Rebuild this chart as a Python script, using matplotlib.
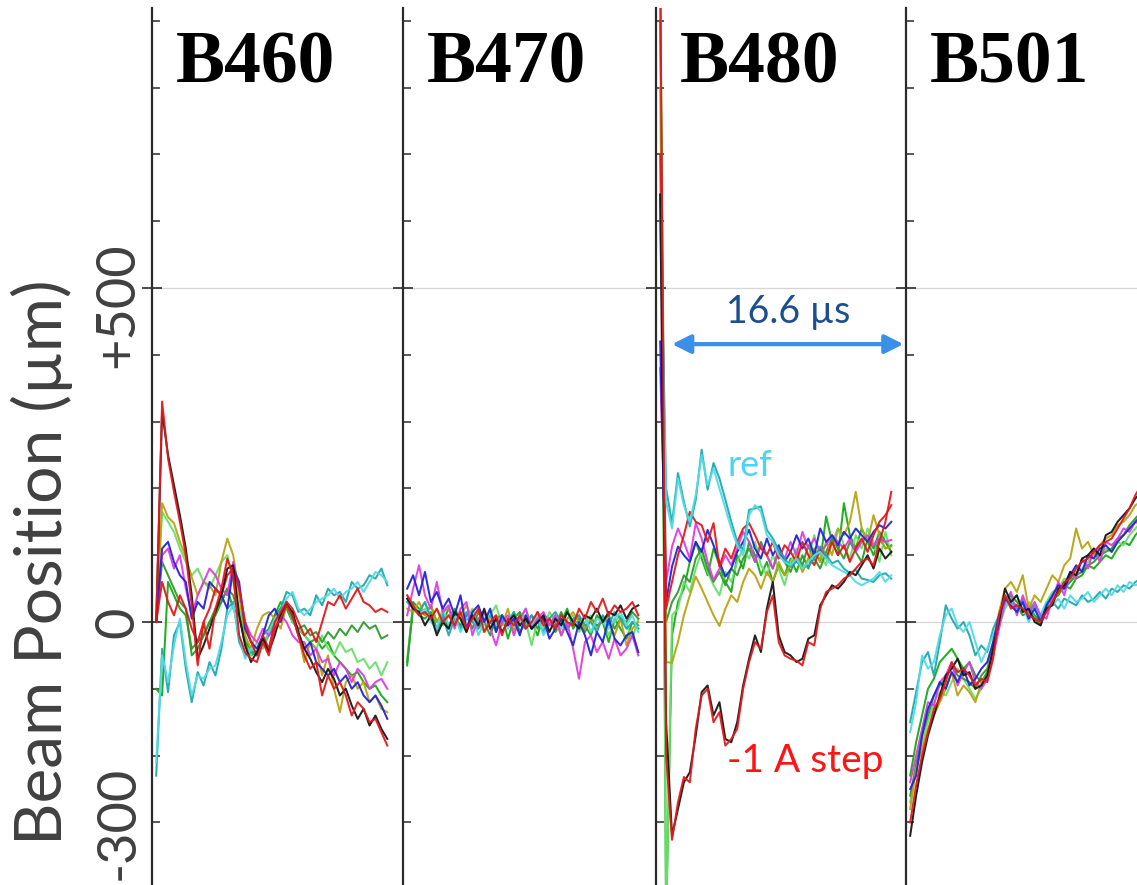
import matplotlib

matplotlib.use("Agg")
import matplotlib.pyplot as plt
import matplotlib.transforms as mtransforms
from matplotlib.ticker import FixedLocator, MultipleLocator
import numpy as np

# sampling of every BPM trace (µs from the start of each bunch window)
T0, DT = 0.3, 0.425

PANELS = ["B460", "B470", "B480", "B501"]
TICK_VALUES = [500, 0, -300]
TICK_LABELS = ["+500", "0", "-300"]

RED = "#e3191c"
BLACK = "#161616"
BLUE = "#2424d8"
MAGENTA = "#e03ce0"
TEAL = "#1ea8b0"
CYAN = "#52dbe4"
GREEN = "#16aa16"
LIME = "#68e068"
OLIVE = "#b8a412"
DKGREEN = "#2f9a2f"

# ---- B460 (µm) ----
B460_RED = [0, 330, 245, 195, 150, 100, 25, -65, 0, -40, 20, 50, 95, 70, -20, -45, -55, -60, -30, -50,
            -10, 5, 25, 10, -20, -50, -70, -60, -110, -80, -100, -90, -110, -140, -120, -130, -150, -145, -165, -185]
B460_BLACK = [0, 315, 250, 205, 160, 110, 40, -55, -35, -10, 15, 40, 80, 85, 10, -35, -60, -45, -25, -45,
              -20, 10, 25, 15, -15, -40, -55, -75, -90, -70, -85, -110, -100, -125, -145, -130, -155, -140, -160, -175]
B460_RED2 = [0, 60, 30, 10, 40, 20, -10, -30, 0, 20, 50, 40, 70, 80, 50, 0, -30, -50, -20, -40,
             0, 15, 30, 20, 0, -20, -10, -30, 0, 30, 25, 40, 20, 35, 50, 30, 25, 15, 20, 15]
B460_TEAL = [-230, -40, -105, -20, 0, -70, -120, -75, -95, -60, -80, -40, 20, 30, -30, -50, -45, -50, -30, -20,
             0, 20, 45, 40, 15, 20, 10, 40, 25, 50, 40, 45, 30, 60, 50, 55, 70, 65, 80, 55]
B460_CYAN = [-210, -50, -90, -35, 5, -60, -110, -80, -85, -70, -65, -30, 10, 25, -20, -55, -40, -45, -35, -15,
             5, 15, 35, 45, 20, 10, 20, 30, 35, 40, 50, 35, 45, 50, 60, 45, 60, 75, 70, 60]
B460_OLIVE = [0, 178, 157, 148, 120, 97, 67, 40, 60, 55, 40, 90, 125, 100, 40, -20, -40, -10, 10, 15,
              5, -10, 25, 10, -20, -60, -30, -40, -80, -50, -100, -135, -90, -80, -100, -90, -120, -110, -130, -135]
B460_LIME = [0, 165, 150, 135, 110, 90, 70, 80, 60, 50, 70, 90, 100, 60, 20, -20, -50, -30, -40, -20,
             -10, 20, 30, 0, -10, -20, -30, -40, -20, -40, -50, -30, -45, -40, -60, -55, -70, -60, -80, -60]
B460_BLUE = [0, 110, 120, 90, 70, 60, 5, 30, 20, 60, 50, 40, 20, 80, 60, -10, -30, -40, -20, 10,
             20, 0, 30, 10, -20, -40, -30, -60, -70, -80, -70, -90, -80, -100, -90, -110, -120, -110, -125, -145]
B460_MAGENTA = [0, 100, 110, 80, 100, 50, 10, 40, 60, 80, 70, 50, 40, 90, 50, 0, -20, -30, -10, -20,
                -10, 10, 0, -20, -30, -30, -50, -40, -60, -55, -80, -60, -70, -90, -70, -80, -100, -90, -85, -100]
B460_GREEN = [-100, -110, 60, 40, 20, 10, -40, -30, -20, 0, 10, 30, 50, 20, 10, -30, -50, -45, -30, -20,
              10, 30, 20, 0, -10, -20, -30, -25, -40, -30, -50, -60, -70, -80, -75, -90, -100, -95, -110, -120]
B460_DKGREEN = [0, 90, 70, 50, 30, 20, -50, -40, -20, 0, 20, 30, 50, 40, 10, -30, -40, -50, -20, -10,
                10, 20, 25, 5, -10, -5, -20, -15, -30, -15, -25, -10, -20, -5, -15, 0, -10, -5, -25, -20]

# ---- B470 (µm) ----
B470_RED = [40, 25, 10, 15, 5, 20, 0, 10, -5, 15, -10, 5, 20, -15, 0, 10, -20, 5, -5, 10,
            -10, 0, 15, -5, 5, -10, 10, 0, -5, 20, 5, 30, 15, 35, 10, 25, 15, 20, 30, 10]
B470_BLACK = [35, 20, 15, -5, 10, -20, 0, -10, 15, 5, -15, 10, -5, 20, -10, 5, -15, 0, 10, -5,
              5, -10, 0, 10, -15, 5, -5, 15, 0, -10, 10, 5, 20, 0, 15, 10, 25, 5, 20, 25]
B470_BLUE = [50, 70, 40, 75, 30, 45, 20, 35, 10, 40, -10, 15, 25, 0, 20, -15, 10, -5, 5, -20,
             10, -10, 0, 5, -25, -10, 5, -15, -35, 0, -20, -50, -15, -30, 5, -25, -35, -20, -15, -45]
B470_MAGENTA = [10, 50, 85, 40, 20, 60, 15, 25, -10, 20, 30, -20, 5, 15, -10, -35, 0, 10, -20, 5,
                20, -10, 5, 15, -5, 10, -20, 0, -40, -85, -30, -20, -45, -30, -55, -25, -50, -40, -20, -50]
B470_TEAL = [30, 20, 15, 30, 5, -15, 10, -20, 5, -10, 15, 0, -10, 5, 10, -15, 5, 0, 15, -5,
             -10, 10, 0, -15, 5, 15, 0, -10, 5, 10, -5, 0, -15, 10, -5, 15, 5, -10, 0, -5]
B470_CYAN = [35, 25, 10, 20, 0, -10, 20, -5, 10, -15, 5, 15, -20, 0, 15, -5, 10, -10, 5, 0,
             20, -5, 10, -20, 0, 5, -10, 15, 0, -5, 10, -15, 5, 0, -10, 5, 15, -5, 10, -15]
B470_GREEN = [-65, 30, 20, 10, 25, 0, 15, -10, 20, 5, -15, 10, -5, 15, 0, -10, 10, -25, 5, 15,
              -5, 0, -20, 10, 5, -15, 0, 20, -10, 5, -5, -20, 10, 0, -30, 5, -10, -25, 0, -10]
B470_LIME = [-55, 25, 15, 30, 5, 20, -5, 10, 15, -10, 5, 20, 0, -15, 10, 25, -5, 5, -10, 10,
             0, -35, 5, -10, 15, 0, -20, 5, 10, -15, 0, 10, -10, 5, -20, 0, 10, -5, -25, 5]
B470_OLIVE = [20, 15, 30, 10, 25, 0, 15, 20, -5, 10, 25, 5, -10, 15, 0, 10, -5, 20, -15, 5,
              10, -10, 15, 0, -5, 10, -20, 5, 15, 0, -10, 5, -15, 10, 0, -20, 5, -35, -10, 0]
B470_DKGREEN = [-60, 20, 10, 5, 15, -10, 0, 20, 5, -5, 10, -10, 15, 0, -20, 5, 10, -5, 15, -15,
                0, 10, -10, 5, 0, -5, 15, -10, 0, 10, -15, 5, -5, 0, 10, -10, 5, 0, 15, 5]

# ---- B480 (µm), first sample carries the kicker transient ----
B480_RED = [1000, -200, -326, -270, -232, -240, -160, -110, -100, -150, -135, -185, -175, -160, -100, -60, -30, -40, 15, 40,
            -30, -50, -55, -58, -65, -30, -35, 20, 45, 50, 55, 65, 70, 80, 90, 95, 85, 120, 150, 195]
B480_BLACK = [640, -150, -320, -280, -240, -225, -170, -105, -95, -140, -120, -175, -180, -150, -95, -55, -20, -45, 20, 60,
              -20, -45, -50, -60, -55, -25, -20, 25, 40, 55, 50, 60, 75, 70, 85, 100, 80, 110, 95, 105]
B480_TEAL = [640, 200, 148, 223, 180, 143, 183, 258, 198, 238, 215, 183, 150, 120, 108, 168, 170, 173, 138, 125,
             108, 95, 83, 90, 83, 83, 95, 113, 100, 88, 92, 80, 73, 78, 65, 63, 60, 70, 73, 65]
B480_CYAN = [600, 180, 140, 215, 175, 150, 190, 250, 205, 230, 200, 170, 140, 115, 100, 160, 175, 165, 130, 120,
             100, 90, 85, 95, 80, 90, 100, 105, 95, 85, 80, 75, 70, 60, 55, 60, 65, 75, 60, 70]
B480_BLUE = [420, 30, 83, 113, 100, 90, 120, 105, 138, 115, 90, 68, 80, 105, 120, 138, 110, 95, 125, 100,
             115, 90, 105, 130, 110, 125, 100, 140, 120, 130, 115, 135, 125, 140, 130, 120, 135, 145, 140, 150]
B480_MAGENTA = [380, 60, 113, 140, 120, 95, 148, 125, 90, 63, 80, 100, 85, 110, 135, 120, 90, 115, 100, 80,
                110, 95, 120, 100, 135, 110, 125, 105, 115, 130, 120, 110, 125, 105, 120, 130, 115, 125, 120, 123]
B480_RED2 = [700, 20, 60, 100, 130, 165, 150, 145, 120, 148, 83, 110, 95, 120, 140, 148, 130, 110, 100, 120,
             95, 115, 105, 90, 120, 100, 85, 110, 95, 120, 100, 115, 90, 110, 125, 105, 130, 150, 160, 175]
B480_GREEN = [1000, -450, -20, 30, 50, 90, 120, 95, 70, 110, 85, 60, 45, 100, 80, 120, 100, 70, 90, 60,
              85, 70, 95, 75, 100, 80, 110, 90, 158, 120, 100, 178, 130, 110, 140, 120, 100, 125, 110, 115]
B480_LIME = [1000, -450, 10, 20, 60, 45, 80, 105, 75, 55, 40, 75, 60, 90, 110, 95, 120, 85, 70, 100,
             80, 55, 90, 110, 75, 95, 130, 100, 85, 120, 140, 115, 95, 130, 110, 140, 120, 90, 135, 100]
B480_OLIVE = [800, -60, -61, -30, 10, 40, 68, 50, 30, 10, -6, 20, 40, 30, 60, 80, 70, 50, 75, 60,
              90, 70, 85, 100, 75, 95, 110, 90, 120, 100, 140, 130, 150, 195, 140, 120, 160, 130, 110, 113]
B480_DKGREEN = [900, 0, 30, 45, 70, 60, 95, 110, 80, 60, 75, 55, 80, 70, 95, 110, 90, 120, 100, 80,
                105, 90, 75, 100, 85, 115, 95, 80, 105, 125, 110, 95, 120, 105, 90, 125, 110, 135, 120, 105]

# ---- B501 (µm) ----
B501_RED = [-300, -245, -200, -165, -130, -115, -90, -60, -75, -70, -80, -95, -85, -90, -55, 10, 40, 20, 25, 20,
            10, 5, 0, 15, 30, 45, 60, 65, 80, 90, 95, 105, 115, 120, 125, 140, 155, 170, 190, 205]
B501_BLACK = [-320, -260, -210, -170, -140, -110, -80, -70, -55, -80, -75, -100, -95, -80, -40, 0, 50, 30, 40, 15,
              20, 0, -5, 20, 25, 50, 55, 75, 70, 95, 100, 110, 100, 130, 135, 150, 160, 170, 185, 195]
B501_BLUE = [-250, -230, -170, -130, -110, -90, -100, -75, -90, -70, -95, -85, -70, -60, -30, 10, 35, 25, 15, 30,
             5, 20, 0, 25, 40, 55, 50, 70, 85, 75, 100, 95, 110, 115, 105, 120, 130, 140, 150, 160]
B501_MAGENTA = [-240, -200, -160, -120, -125, -90, -80, -60, -95, -75, -60, -90, -100, -85, -50, -10, 30, 45, 10, 40,
                15, 30, 10, 5, 35, 60, 40, 75, 65, 95, 80, 110, 90, 120, 115, 125, 140, 135, 150, 145]
B501_TEAL = [-150, -105, -60, -45, -80, -30, 25, 5, -10, 0, -20, -50, -35, -45, -10, 10, 40, 30, 20, 35,
             15, 25, 5, 20, 30, 20, 35, 30, 25, 40, 30, 35, 45, 35, 50, 45, 55, 50, 60, 65]
B501_CYAN = [-165, -120, -50, -70, -60, -20, 10, 20, -5, -15, 0, -30, -60, -40, -20, 0, 25, 35, 15, 25,
             0, 20, 10, 30, 25, 35, 20, 40, 30, 35, 45, 30, 40, 50, 40, 55, 45, 60, 55, 60]
B501_GREEN = [-230, -180, -140, -100, -85, -60, -50, -40, -55, -70, -60, -80, -90, -75, -40, 5, 30, 40, 30, 20,
              25, 10, 0, 20, 35, 40, 55, 50, 65, 70, 85, 80, 90, 100, 95, 110, 120, 115, 130, 140]
B501_LIME = [-270, -210, -180, -150, -120, -105, -110, -90, -70, -85, -100, -115, -100, -85, -45, -5, 20, 35, 40, 15,
             30, 20, 10, 30, 45, 50, 65, 60, 75, 80, 90, 100, 95, 110, 105, 120, 115, 130, 140, 150]
B501_OLIVE = [-280, -220, -190, -160, -140, -120, -100, -75, -110, -95, -105, -120, -90, -80, -30, 15, 50, 60, 45, 70,
              20, 40, 30, 50, 70, 60, 85, 95, 140, 110, 120, 100, 115, 125, 130, 145, 150, 160, 175, 180]
B501_DKGREEN = [-260, -215, -170, -140, -110, -95, -85, -65, -80, -85, -90, -100, -80, -70, -35, 5, 35, 30, 25, 10,
                15, 5, -5, 25, 35, 45, 50, 60, 70, 75, 85, 90, 100, 105, 110, 125, 130, 145, 155, 165]

# drawing order inside each panel: greens underneath, red/black on top
TRACES = {
    "B460": [(B460_GREEN, GREEN), (B460_LIME, LIME), (B460_DKGREEN, DKGREEN), (B460_OLIVE, OLIVE),
             (B460_TEAL, TEAL), (B460_CYAN, CYAN), (B460_MAGENTA, MAGENTA), (B460_BLUE, BLUE),
             (B460_RED2, RED), (B460_BLACK, BLACK), (B460_RED, RED)],
    "B470": [(B470_GREEN, GREEN), (B470_LIME, LIME), (B470_DKGREEN, DKGREEN), (B470_OLIVE, OLIVE),
             (B470_TEAL, TEAL), (B470_CYAN, CYAN), (B470_MAGENTA, MAGENTA), (B470_BLUE, BLUE),
             (B470_BLACK, BLACK), (B470_RED, RED)],
    "B480": [(B480_GREEN, GREEN), (B480_LIME, LIME), (B480_DKGREEN, DKGREEN), (B480_OLIVE, OLIVE),
             (B480_MAGENTA, MAGENTA), (B480_BLUE, BLUE), (B480_RED2, RED),
             (B480_TEAL, TEAL), (B480_CYAN, CYAN), (B480_BLACK, BLACK), (B480_RED, RED)],
    "B501": [(B501_GREEN, GREEN), (B501_LIME, LIME), (B501_DKGREEN, DKGREEN), (B501_OLIVE, OLIVE),
             (B501_TEAL, TEAL), (B501_CYAN, CYAN), (B501_MAGENTA, MAGENTA), (B501_BLUE, BLUE),
             (B501_BLACK, BLACK), (B501_RED, RED)],
}

SANS = ["Lato", "DejaVu Sans"]
W, H = 1137, 885
PANEL_LEFT = [152, 403, 656, 906]
PANEL_W = 251
TOP_PX = 8
YLIM = (-393.7, 919.2)
XLIM = (0, 18.0)

fig = plt.figure(figsize=(W / 100, H / 100), dpi=100)
axes = []
for i, name in enumerate(PANELS):
    ax = fig.add_axes([PANEL_LEFT[i] / W, 0, PANEL_W / W, (H - TOP_PX) / H])
    ax.set_xlim(*XLIM)
    ax.set_ylim(*YLIM)
    ax.patch.set_alpha(0)
    for s in ("top", "right", "bottom"):
        ax.spines[s].set_visible(False)
    ax.spines["left"].set_color("#2b2b2b")
    ax.spines["left"].set_linewidth(1.6)
    ax.set_xticks([])
    ax.yaxis.set_major_locator(FixedLocator([0, 500]))
    ax.yaxis.set_minor_locator(MultipleLocator(100))
    ax.tick_params(axis="y", which="major", direction="inout", length=15, width=1.2,
                   color="#2b2b2b", labelleft=False)
    ax.tick_params(axis="y", which="minor", direction="in", length=6, width=1.1,
                   color="#2b2b2b")
    for v in (0, 500):
        ax.axhline(v, color="#d6d6d6", lw=0.9, zorder=0)

    for vals, col in TRACES[name]:
        t = T0 + DT * np.arange(len(vals))
        ax.plot(t, vals, color=col, lw=1.45, alpha=0.95, solid_joinstyle="round")

    ax.text(1.7, 807, name, family="Liberation Serif", fontweight="bold",
            fontsize=53, ha="left", va="baseline", color="black")
    axes.append(ax)

# y-axis labelling on the outer left
trans = mtransforms.blended_transform_factory(fig.transFigure, axes[0].transData)
for v, lab in zip(TICK_VALUES, TICK_LABELS):
    # the "+500" label sits a little below its tick line
    yv = v - 25 if v == 500 else v
    axes[0].text(118 / W, yv, lab, transform=trans, rotation=90, ha="center", va="center",
                 fontsize=39, color="#404040", family=SANS, clip_on=False)
fig.text(42 / W, 1 - 562 / H, "Beam Position (\u00b5m)", rotation=90, ha="center",
         va="center", fontsize=47.5, color="#404040", family=SANS)

# B480 annotations
ax = axes[2]
ax.annotate("", xy=(17.75, 416), xytext=(1.15, 416),
            arrowprops=dict(arrowstyle="<|-|>", color="#3a8fe8", lw=3,
                            mutation_scale=28, shrinkA=0, shrinkB=0))
ax.text(9.45, 448, "16.6 \u00b5s", ha="center", va="baseline", fontsize=27,
        color="#1c4f8e", family=SANS)
ax.text(5.1, 219, "ref", ha="left", va="baseline", fontsize=26,
        color="#4dd4f4", family=SANS)
ax.text(5.1, -225, "-1 A step", ha="left", va="baseline", fontsize=28,
        color="#ff1414", family=SANS)

fig.savefig("out.png", dpi=100)
